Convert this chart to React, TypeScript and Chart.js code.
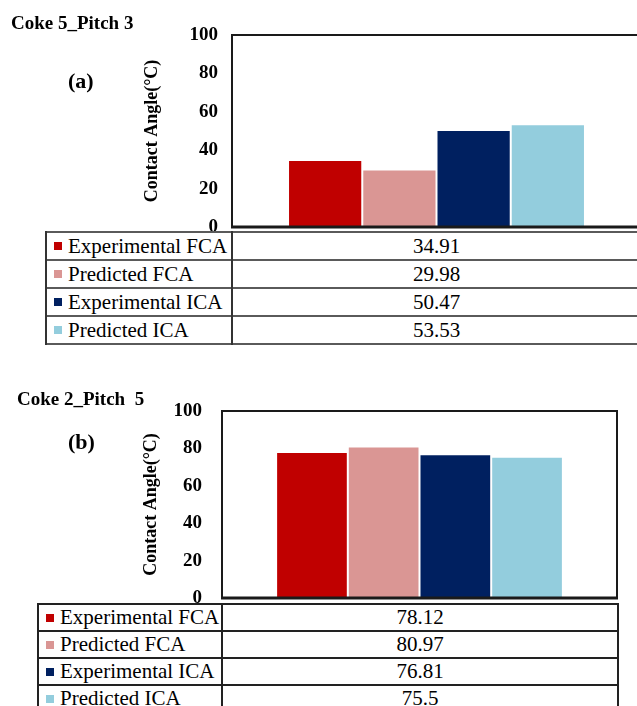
import React, { useEffect, useRef } from 'react';
import { Chart, registerables } from 'chart.js';

Chart.register(...registerables);

// ---------- data ----------
const seriesLabels = ['Experimental FCA', 'Predicted FCA', 'Experimental ICA', 'Predicted ICA'];
const seriesColors = ['#C00000', '#DA9694', '#002060', '#93CDDD'];
const coke5Pitch3Values = [34.91, 29.98, 50.47, 53.53];
const coke2Pitch5Values = [78.12, 80.97, 76.81, 75.5];
const panelTitles = ['Coke 5_Pitch 3', 'Coke 2_Pitch  5'];
const panelTags = ['(a)', '(b)'];
const yAxisTitle = 'Contact Angle(°C)';
const yMin = 0;
const yMax = 100;
const yStep = 20;

const SERIF = '"Liberation Serif", "Times New Roman", serif';

const framePlugin = {
  id: 'frame',
  afterDatasetsDraw(chart: any) {
    const { ctx, chartArea } = chart;
    const { left, top, right, bottom } = chartArea;
    ctx.save();
    ctx.strokeStyle = '#1a1a1a';
    ctx.lineWidth = 2;
    ctx.strokeRect(left, top, right - left, bottom - top);
    ctx.lineWidth = 3;
    ctx.beginPath();
    ctx.moveTo(left - 1, bottom);
    ctx.lineTo(right + 1, bottom);
    ctx.stroke();
    ctx.restore();
  },
};

type PanelProps = {
  values: number[];
  canvasTop: number;
  canvasWidth: number;
  canvasHeight: number;
  plotLeft: number;
  plotTop: number;
  plotRight: number;
  plotBottom: number;
  tickPad: number;
  titleCenterX: number;
};

function BarPanel(p: PanelProps) {
  const ref = useRef<HTMLCanvasElement | null>(null);
  useEffect(() => {
    if (!ref.current) return;
    const titleSize = 18;
    const chart = new Chart(ref.current, {
      type: 'bar',
      data: {
        labels: [''],
        datasets: seriesLabels.map((label, i) => ({
          label,
          data: [p.values[i]],
          backgroundColor: seriesColors[i],
          borderColor: '#ffffff',
          borderWidth: 1,
          borderSkipped: 'bottom',
          categoryPercentage: 0.726,
          barPercentage: 1,
        })),
      },
      options: {
        responsive: false,
        animation: false,
        devicePixelRatio: 1,
        layout: {
          padding: {
            left: 0,
            top: p.plotTop - p.canvasTop,
            right: p.canvasWidth - p.plotRight,
            bottom: p.canvasTop + p.canvasHeight - p.plotBottom,
          },
        },
        plugins: { legend: { display: false }, tooltip: { enabled: false } },
        scales: {
          x: { display: false },
          y: {
            min: yMin,
            max: yMax,
            afterFit: (s: any) => {
              s.width = p.plotLeft;
            },
            grid: { display: false, drawTicks: false },
            border: { display: false },
            ticks: {
              stepSize: yStep,
              padding: p.tickPad,
              color: '#000',
              font: { family: SERIF, size: 19, weight: 'bold' },
            },
            title: {
              display: true,
              text: yAxisTitle,
              color: '#000',
              font: { family: SERIF, size: titleSize, weight: 'bold' },
              padding: { top: p.titleCenterX - (titleSize * 1.2) / 2, bottom: 0 },
            },
          },
        },
      } as any,
      plugins: [framePlugin],
    });
    return () => chart.destroy();
  }, []);
  return (
    <canvas
      ref={ref}
      width={p.canvasWidth}
      height={p.canvasHeight}
      style={{ position: 'absolute', left: 0, top: p.canvasTop, width: p.canvasWidth, height: p.canvasHeight }}
    />
  );
}

type TableProps = {
  values: number[];
  left: number;
  top: number;
  divider: number;
  right: number;
  rowH: number;
  lineColor: string;
  vLineColor: string;
};

function DataTable(t: TableProps) {
  const n = seriesLabels.length;
  const lw = 2;
  const els: any[] = [];
  els.push(
    <div key="bg" style={{ position: 'absolute', left: t.left, top: t.top, width: t.right - t.left, height: t.rowH * n + 40, background: '#fff' }} />
  );
  seriesLabels.forEach((label, i) => {
    const rt = t.top + i * t.rowH;
    els.push(
      <div
        key={'m' + i}
        style={{ position: 'absolute', left: t.left + 8, top: rt + (t.rowH - 8) / 2, width: 8, height: 8, background: seriesColors[i] }}
      />
    );
    els.push(
      <div
        key={'l' + i}
        style={{ position: 'absolute', left: t.left + 22, top: rt, height: t.rowH, lineHeight: t.rowH + 'px', fontFamily: SERIF, fontSize: 21, color: '#000', whiteSpace: 'nowrap' }}
      >
        {label}
      </div>
    );
    els.push(
      <div
        key={'v' + i}
        style={{ position: 'absolute', left: t.divider, width: t.right - t.divider, top: rt, height: t.rowH, lineHeight: t.rowH + 'px', fontFamily: SERIF, fontSize: 21, color: '#000', textAlign: 'center', whiteSpace: 'nowrap' }}
      >
        {String(t.values[i])}
      </div>
    );
  });
  for (let i = 0; i <= n; i++) {
    els.push(
      <div key={'h' + i} style={{ position: 'absolute', left: t.left, top: t.top + i * t.rowH - lw / 2, width: t.right - t.left, height: lw, background: t.lineColor }} />
    );
  }
  [t.left, t.divider, t.right].forEach((x, i) => {
    els.push(
      <div key={'vl' + i} style={{ position: 'absolute', left: x - lw / 2, top: t.top - lw / 2, width: lw, height: t.rowH * n + lw, background: t.vLineColor }} />
    );
  });
  return <>{els}</>;
}

function Label({ text, left, baseline, size }: { text: string; left: number; baseline: number; size: number }) {
  return (
    <div
      style={{ position: 'absolute', left, top: baseline - 0.8375 * size, fontFamily: SERIF, fontWeight: 'bold', fontSize: size, lineHeight: size + 'px', color: '#000', whiteSpace: 'pre' }}
    >
      {text}
    </div>
  );
}

export default function App() {
  return (
    <div style={{ position: 'absolute', left: 0, top: 0, width: 637, height: 706, overflow: 'hidden', background: '#fff' }}>
      <BarPanel
        values={coke5Pitch3Values}
        canvasTop={0}
        canvasWidth={645}
        canvasHeight={262}
        plotLeft={232}
        plotTop={35}
        plotRight={641}
        plotBottom={227}
        tickPad={14}
        titleCenterX={152}
      />
      <DataTable values={coke5Pitch3Values} left={46} top={232} divider={232} right={641} rowH={28} lineColor="#5a5a5a" vLineColor="#333" />
      <Label text={panelTitles[0]} left={11} baseline={29} size={19} />
      <Label text={panelTags[0]} left={68} baseline={88} size={22} />

      <BarPanel
        values={coke2Pitch5Values}
        canvasTop={370}
        canvasWidth={637}
        canvasHeight={266}
        plotLeft={222}
        plotTop={411}
        plotRight={617}
        plotBottom={598}
        tickPad={20}
        titleCenterX={151}
      />
      <DataTable values={coke2Pitch5Values} left={38} top={604} divider={222} right={618} rowH={27} lineColor="#222" vLineColor="#222" />
      <Label text={panelTitles[1]} left={17} baseline={405} size={19} />
      <Label text={panelTags[1]} left={68} baseline={449} size={22} />
    </div>
  );
}
